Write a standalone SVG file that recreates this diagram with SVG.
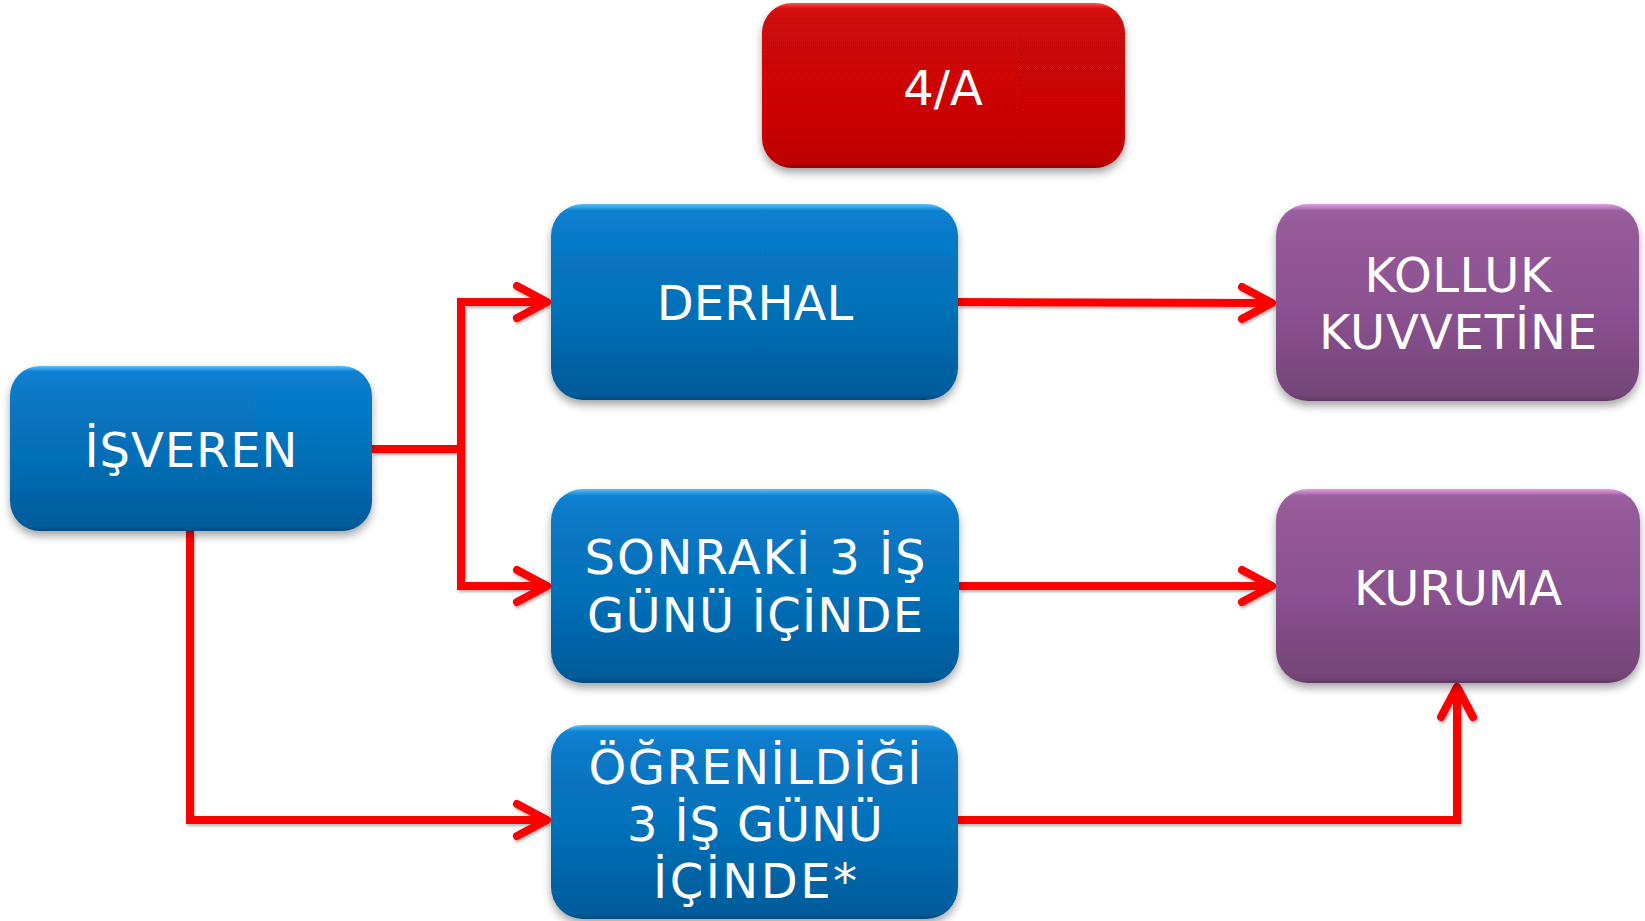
<svg xmlns="http://www.w3.org/2000/svg" width="1645" height="921" viewBox="0 0 1645 921">
<defs>
<linearGradient id="gBlue" x1="0" y1="0" x2="0" y2="1">
<stop offset="0" stop-color="#5cc0f6"/>
<stop offset="0.035" stop-color="#0a82d4"/>
<stop offset="0.1" stop-color="#077bca"/>
<stop offset="0.55" stop-color="#066fb7"/>
<stop offset="0.97" stop-color="#055b9a"/>
<stop offset="1" stop-color="#044a80"/>
</linearGradient>
<linearGradient id="gPurple" x1="0" y1="0" x2="0" y2="1">
<stop offset="0" stop-color="#e0a0e4"/>
<stop offset="0.035" stop-color="#9c5fa0"/>
<stop offset="0.1" stop-color="#975a99"/>
<stop offset="0.55" stop-color="#8a5190"/>
<stop offset="0.97" stop-color="#744578"/>
<stop offset="1" stop-color="#5e3862"/>
</linearGradient>
<linearGradient id="gRed" x1="0" y1="0" x2="0" y2="1">
<stop offset="0" stop-color="#ff5050"/>
<stop offset="0.035" stop-color="#d80a0a"/>
<stop offset="0.1" stop-color="#cc0707"/>
<stop offset="0.7" stop-color="#ca0606"/>
<stop offset="0.97" stop-color="#bd0505"/>
<stop offset="1" stop-color="#900404"/>
</linearGradient>
<filter id="sh" x="-10%" y="-10%" width="120%" height="130%">
<feDropShadow dx="0" dy="5" stdDeviation="4" flood-color="#000" flood-opacity="0.35"/>
</filter>
<filter id="lsh" x="-5%" y="-5%" width="110%" height="110%">
<feDropShadow dx="1" dy="2" stdDeviation="1.5" flood-color="#000" flood-opacity="0.3"/>
</filter>
<marker id="ah" viewBox="-40 -22 46 44" refX="0" refY="0" markerWidth="46" markerHeight="44" markerUnits="userSpaceOnUse" orient="auto" overflow="visible">
<path d="M-30,-16 L0,0 L-30,16" fill="none" stroke="#ff0000" stroke-width="8" stroke-linecap="round" stroke-linejoin="round"/>
</marker>
<style>
.box { filter: url(#sh); }
.blue { fill: url(#gBlue); }
.purple { fill: url(#gPurple); }
.red { fill: url(#gRed); }
.lbl { font-family: "DejaVu Sans", Verdana, sans-serif; font-size: 48px; fill: #ffffff; text-anchor: middle; }
.con { fill: none; stroke: #ff0000; stroke-width: 8; stroke-linejoin: miter; }
</style>
</defs>
<rect width="1645" height="921" fill="#ffffff"/>

<g id="connectors" filter="url(#lsh)">
<path class="con" d="M372,449 H461 V302 H547" marker-end="url(#ah)"/>
<path class="con" d="M461,445 V586 H547" marker-end="url(#ah)"/>
<path class="con" d="M958,302 L1272,303" marker-end="url(#ah)"/>
<path class="con" d="M959,586 H1272" marker-end="url(#ah)"/>
<path class="con" d="M190,531 V820 H547" marker-end="url(#ah)"/>
<path class="con" d="M958,820 H1457 V687" marker-end="url(#ah)"/>
</g>

<g id="n4a">
<rect class="box red" x="762" y="3" width="363" height="165" rx="30"/>
<text class="lbl" x="943" y="105">4/A</text>
</g>
<g id="isveren">
<rect class="box blue" x="10" y="366" width="362" height="165" rx="30"/>
<text class="lbl" x="191" y="467" textLength="213" lengthAdjust="spacing">İŞVEREN</text>
</g>
<g id="derhal">
<rect class="box blue" x="551" y="204" width="407" height="196" rx="32"/>
<text class="lbl" x="755" y="320">DERHAL</text>
</g>
<g id="kolluk">
<rect class="box purple" x="1276" y="204" width="363" height="197" rx="32"/>
<text class="lbl" x="1458" y="292" textLength="187" lengthAdjust="spacing">KOLLUK</text>
<text class="lbl" x="1458" y="349" textLength="278" lengthAdjust="spacing">KUVVETİNE</text>
</g>
<g id="sonraki">
<rect class="box blue" x="551" y="489" width="408" height="194" rx="32"/>
<text class="lbl" x="755" y="574" textLength="341" lengthAdjust="spacing">SONRAKİ 3 İŞ</text>
<text class="lbl" x="755" y="632" textLength="336" lengthAdjust="spacing">GÜNÜ İÇİNDE</text>
</g>
<g id="kuruma">
<rect class="box purple" x="1276" y="489" width="364" height="194" rx="32"/>
<text class="lbl" x="1458" y="605">KURUMA</text>
</g>
<g id="ogrenildigi">
<rect class="box blue" x="551" y="725" width="407" height="194" rx="32"/>
<text class="lbl" x="755" y="784" textLength="333" lengthAdjust="spacing">ÖĞRENİLDİĞİ</text>
<text class="lbl" x="755" y="841" textLength="256" lengthAdjust="spacing">3 İŞ GÜNÜ</text>
<text class="lbl" x="755" y="898" textLength="204" lengthAdjust="spacing">İÇİNDE*</text>
</g>
</svg>
